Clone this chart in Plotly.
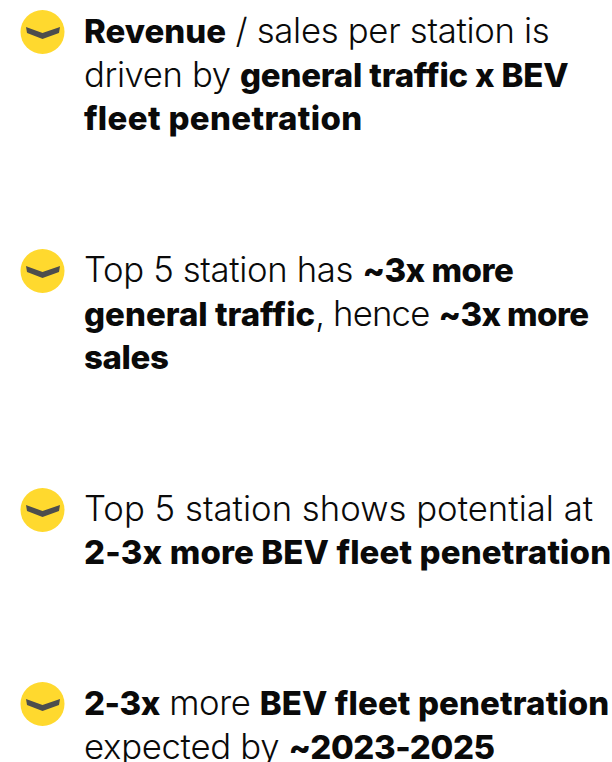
import plotly.graph_objects as go

bullet_y = [32, 271, 510, 704]
line_y = [30, 74, 118, 269, 313, 357, 508, 552, 702, 746]


def b(text, k=0):
    return f'<span style="font-weight:800;font-size:33px;letter-spacing:{k}px">{text}</span>'


def r(text, k=0):
    return f'<span style="letter-spacing:{k}px">{text}</span>'


lines = [
    b("Revenue") + r(" / sales per station is", -0.3),
    r("driven by ", -0.4) + b("general traffic x BEV", -0.2),
    b("fleet penetration", 0.35),
    r("Top 5 station has ", -0.35) + b("~3x more", -0.5),
    b("general traffic") + r(", hence ", -0.8) + b("~3x more", -0.6),
    b("sales", -0.4),
    r("Top 5 station shows potential at", 0.02),
    b("2-3x more BEV fleet penetration", 0.13),
    b("2-3x", -0.5) + r(" more ", -0.4) + b("BEV fleet penetration", 0.12),
    r("expected by ", -0.3) + b("~2023-2025", -0.4),
]
FONT = "Inter"
TEXT_X = 82
SIZE = 34.7

fig = go.Figure()
fig.add_trace(go.Scatter(
    x=[42.5] * len(bullet_y), y=bullet_y, mode="markers",
    marker=dict(symbol="circle", size=44, color="#FFD92E", line=dict(width=0)),
    hoverinfo="skip", showlegend=False))

shapes = []
for cy in bullet_y:
    d = (f"M 26 {cy-5} L 42.5 {cy+1} L 60 {cy-5} L 59 {cy+1} "
         f"L 42.5 {cy+7} L 27 {cy+1} Z")
    shapes.append(dict(type="path", path=d, xref="x", yref="y",
                       fillcolor="#4D4D4D", line=dict(width=0)))

annotations = [dict(x=TEXT_X, y=y, xref="x", yref="y", text=t,
                    showarrow=False, xanchor="left", yanchor="middle", align="left",
                    font=dict(family=FONT, size=SIZE, color="#0A0A0A", weight=300))
               for t, y in zip(lines, line_y)]

fig.update_layout(
    width=612, height=762, margin=dict(l=0, r=0, t=0, b=0),
    paper_bgcolor="white", plot_bgcolor="white",
    xaxis=dict(range=[0, 612], visible=False, fixedrange=True),
    yaxis=dict(range=[762, 0], visible=False, fixedrange=True),
    shapes=shapes, annotations=annotations)
fig.write_html("out.html", config=dict(displayModeBar=False),
               post_script="document.body.style.margin='0';")
